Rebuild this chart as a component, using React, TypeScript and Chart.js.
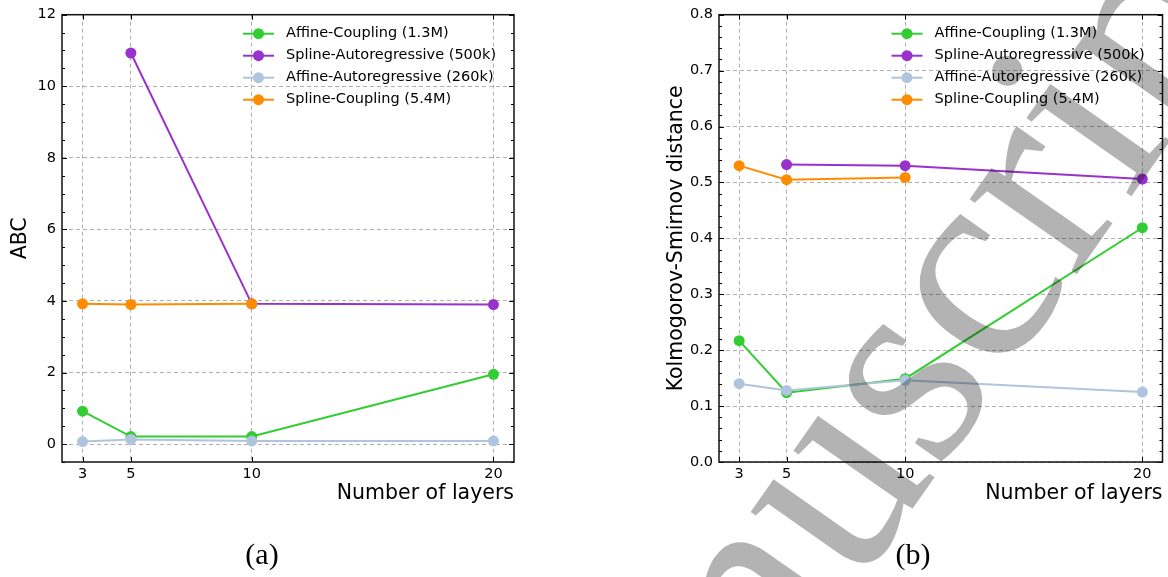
import React, { useEffect, useRef } from "react";
import { Chart, registerables } from "chart.js";

Chart.register(...registerables);

// ---------- data ----------
const layers = [3, 5, 10, 20];
const xTickValues = [3, 5, 10, 20];
const seriesNames = [
  "Affine-Coupling (1.3M)",
  "Spline-Autoregressive (500k)",
  "Affine-Autoregressive (260k)",
  "Spline-Coupling (5.4M)",
];
const seriesColors = ["#32CD32", "#9932CC", "#B0C4DE", "#FF8C00"];

// (a) ABC
const abcAffineCoupling = [0.92, 0.21, 0.21, 1.95];
const abcSplineAutoregressive = [null, 10.93, 3.92, 3.9];
const abcAffineAutoregressive = [0.07, 0.13, 0.09, 0.09];
const abcSplineCoupling = [3.92, 3.9, 3.92, null];
const abcTicks = [0, 2, 4, 6, 8, 10, 12];

// (b) Kolmogorov-Smirnov distance
const ksAffineCoupling = [0.217, 0.124, 0.149, 0.419];
const ksSplineAutoregressive = [null, 0.532, 0.53, 0.506];
const ksAffineAutoregressive = [0.14, 0.128, 0.146, 0.125];
const ksSplineCoupling = [0.53, 0.505, 0.509, null];
const ksTicks = [0, 0.1, 0.2, 0.3, 0.4, 0.5, 0.6, 0.7, 0.8];

const FONT = "'DejaVu Sans', sans-serif";

function toPoints(vals: (number | null)[]) {
  return layers
    .map((x, i) => ({ x, y: vals[i] }))
    .filter((p) => p.y !== null) as { x: number; y: number }[];
}

const framePlugin = {
  id: "frame",
  afterDraw(chart: any, _args: any, opts: any) {
    const { ctx, chartArea: a, scales } = chart;
    const ys = scales.y;
    const xs = scales.x;
    ctx.save();
    ctx.strokeStyle = "#000";
    ctx.lineWidth = 1;
    ctx.beginPath();
    // minor y ticks
    const n = Math.round((opts.minorMax - opts.minorMin) / opts.minorStep);
    for (let i = 0; i <= n; i++) {
      const v = opts.minorMin + i * opts.minorStep;
      const p = Math.round(ys.getPixelForValue(v)) + 0.5;
      ctx.moveTo(a.left, p);
      ctx.lineTo(a.left + 3, p);
      ctx.moveTo(a.right, p);
      ctx.lineTo(a.right - 3, p);
    }
    // major y ticks
    for (const v of opts.yMajor) {
      const p = Math.round(ys.getPixelForValue(v)) + 0.5;
      ctx.moveTo(a.left, p);
      ctx.lineTo(a.left + 5, p);
      ctx.moveTo(a.right, p);
      ctx.lineTo(a.right - 5, p);
    }
    // major x ticks
    for (const v of xTickValues) {
      const p = Math.round(xs.getPixelForValue(v)) + 0.5;
      ctx.moveTo(p, a.bottom);
      ctx.lineTo(p, a.bottom - 5);
      ctx.moveTo(p, a.top);
      ctx.lineTo(p, a.top + 5);
    }
    ctx.stroke();
    ctx.lineWidth = 1.5;
    ctx.strokeStyle = "#111";
    ctx.strokeRect(a.left, a.top, a.right - a.left, a.bottom - a.top);

    // legend inside plot, upper right
    const x0 = a.right - 271;
    ctx.font = `14.5px ${FONT}`;
    ctx.textBaseline = "middle";
    ctx.textAlign = "left";
    seriesNames.forEach((name, i) => {
      const y = a.top + 19 + i * 22;
      ctx.strokeStyle = seriesColors[i];
      ctx.lineWidth = 2;
      ctx.beginPath();
      ctx.moveTo(x0, y);
      ctx.lineTo(x0 + 31, y);
      ctx.stroke();
      ctx.fillStyle = seriesColors[i];
      ctx.beginPath();
      ctx.arc(x0 + 15.5, y, 5.5, 0, Math.PI * 2);
      ctx.fill();
      ctx.fillStyle = "#000";
      ctx.fillText(name, x0 + 43, y);
    });
    ctx.restore();
  },
};

type PanelProps = {
  left: number;
  width: number;
  padLeft: number;
  padRight: number;
  yWidth: number;
  yTitle: string;
  yTitlePad: number;
  yMin: number;
  yMax: number;
  yTicks: number[];
  tickFmt: (v: number) => string;
  minorMin: number;
  minorMax: number;
  minorStep: number;
  series: (number | null)[][];
};

function Panel(p: PanelProps) {
  const ref = useRef<HTMLCanvasElement | null>(null);
  useEffect(() => {
    if (!ref.current) return;
    const datasets = p.series.map((vals, i) => ({
      label: seriesNames[i],
      data: toPoints(vals),
      borderColor: seriesColors[i],
      backgroundColor: seriesColors[i],
      pointBackgroundColor: seriesColors[i],
      pointBorderWidth: 0,
      pointRadius: 5.5,
      borderWidth: 2,
      tension: 0,
      fill: false,
      order: 4 - i,
    }));
    const chart = new Chart(ref.current, {
      type: "line",
      data: { datasets },
      plugins: [framePlugin],
      options: {
        responsive: false,
        animation: false,
        devicePixelRatio: 1,
        layout: { padding: { left: p.padLeft, right: p.padRight, top: 12, bottom: 71 } },
        plugins: {
          legend: { display: false },
          title: { display: false },
          tooltip: { enabled: false },
          frame: {
            yMajor: p.yTicks,
            minorMin: p.minorMin,
            minorMax: p.minorMax,
            minorStep: p.minorStep,
          },
        } as any,
        scales: {
          x: {
            type: "linear",
            min: 2.15,
            max: 20.85,
            afterBuildTicks: (s: any) => {
              s.ticks = xTickValues.map((v) => ({ value: v }));
            },
            afterFit: (s: any) => {
              s.height = 44;
            },
            grid: { color: "#b0b0b0", lineWidth: 1, drawTicks: false },
            border: { display: false, dash: [4, 3] },
            ticks: {
              padding: 4,
              color: "#000",
              font: { family: FONT, size: 14.5 },
              maxRotation: 0,
              autoSkip: false,
              callback: (v: any) => String(v),
            },
            title: {
              display: true,
              text: "Number of layers",
              align: "end",
              color: "#000",
              font: { family: FONT, size: 20.5 },
              padding: { top: 0, bottom: 0 },
            },
          },
          y: {
            type: "linear",
            min: p.yMin,
            max: p.yMax,
            afterBuildTicks: (s: any) => {
              s.ticks = p.yTicks.map((v) => ({ value: v }));
            },
            afterFit: (s: any) => {
              s.width = p.yWidth;
            },
            grid: { color: "#b0b0b0", lineWidth: 1, drawTicks: false },
            border: { display: false, dash: [4, 3] },
            ticks: {
              padding: 6,
              color: "#000",
              font: { family: FONT, size: 14.5 },
              autoSkip: false,
              callback: (v: any) => p.tickFmt(Number(v)),
            },
            title: {
              display: true,
              text: p.yTitle,
              color: "#000",
              font: { family: FONT, size: 20.5 },
              padding: { top: p.yTitlePad, bottom: 0 },
            },
          },
        },
      } as any,
    });
    return () => chart.destroy();
  }, []);
  return (
    <canvas
      ref={ref}
      width={p.width}
      height={577}
      style={{ position: "absolute", left: p.left, top: 0, width: p.width, height: 577 }}
    />
  );
}

export default function App() {
  const captionStyle: React.CSSProperties = {
    position: "absolute",
    top: 554,
    transform: "translate(-50%, -50%)",
    fontFamily: "'Liberation Serif', serif",
    fontSize: 30,
    lineHeight: 1,
    color: "#000",
    whiteSpace: "nowrap",
  };
  return (
    <div
      style={{
        position: "absolute",
        left: 0,
        top: 0,
        width: 1168,
        height: 577,
        background: "#fff",
        overflow: "hidden",
      }}
    >
      <Panel
        left={0}
        width={580}
        padLeft={0}
        padRight={66}
        yWidth={62}
        yTitle="ABC"
        yTitlePad={8.7}
        yMin={-0.5}
        yMax={12}
        yTicks={abcTicks}
        tickFmt={(v) => String(v)}
        minorMin={-0.5}
        minorMax={12}
        minorStep={0.5}
        series={[abcAffineCoupling, abcSplineAutoregressive, abcAffineAutoregressive, abcSplineCoupling]}
      />
      <Panel
        left={580}
        width={588}
        padLeft={84}
        padRight={3}
        yWidth={55}
        yTitle="Kolmogorov-Smirnov distance"
        yTitlePad={0}
        yMin={0}
        yMax={0.8}
        yTicks={ksTicks}
        tickFmt={(v) => v.toFixed(1)}
        minorMin={0}
        minorMax={0.8}
        minorStep={0.02}
        series={[ksAffineCoupling, ksSplineAutoregressive, ksAffineAutoregressive, ksSplineCoupling]}
      />
      <div style={{ ...captionStyle, left: 262 }}>(a)</div>
      <div style={{ ...captionStyle, left: 913 }}>(b)</div>
      <svg
        width={1168}
        height={577}
        style={{ position: "absolute", left: 0, top: 0, pointerEvents: "none", mixBlendMode: "multiply" }}
      >
        <text
          x={556}
          y={1018}
          transform="rotate(-55 556 1018)"
          fontFamily="'Liberation Serif', serif"
          fontSize={285}
          fill="#b3b3b3"
        >
          Manuscript
        </text>
      </svg>
    </div>
  );
}
